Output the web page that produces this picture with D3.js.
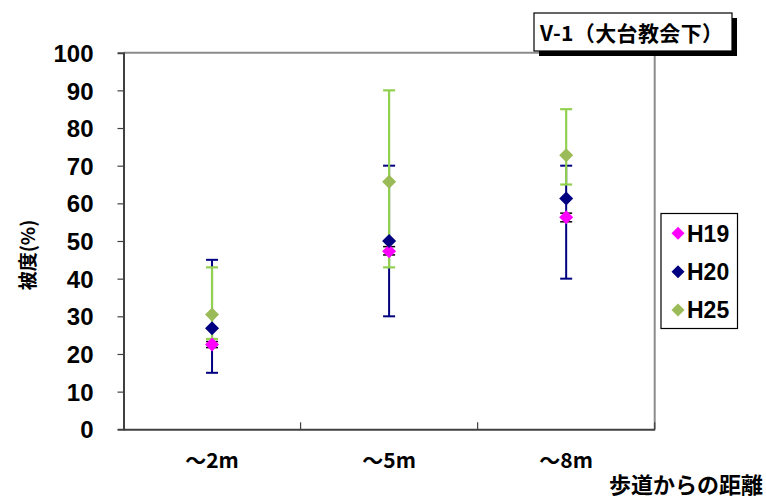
<!DOCTYPE html>
<html><head><meta charset="utf-8">
<script src="https://cdn.jsdelivr.net/npm/d3@7"></script>
<style>
html,body{margin:0;padding:0;background:#fff;}
svg{display:block;}
text{font-family:"Liberation Sans",Arial,sans-serif;}
.num{font-family:"Liberation Sans Narrow","Liberation Sans",Arial,sans-serif;}
.cjk{font-family:"Noto Sans CJK JP","Noto Sans CJK SC",sans-serif;}
</style></head>
<body>
<svg id="chart" width="766" height="498"></svg>
<script>
const categories = ["～2m", "～5m", "～8m"];
const seriesNames = ["H19", "H20", "H25"];
const H19 = [22.5, 47.3, 56.3];
const H19_low = [21.7, 46.3, 55.1];
const H19_high = [23.3, 48.5, 57.4];
const H20 = [26.8, 50.0, 61.3];
const H20_low = [15, 30, 40];
const H20_high = [45, 70, 70];
const H25 = [30.5, 65.7, 72.8];
const H25_low = [24, 43, 65];
const H25_high = [43, 90, 85];
const yTicks = [0, 10, 20, 30, 40, 50, 60, 70, 80, 90, 100];
const titleText = "V-1（大台教会下）";
const yTitle = "被度(%)";
const xTitle = "歩道からの距離";

const series = [
  {name: "H19", values: H19, low: H19_low, high: H19_high, color: "#FF00FF", bar: "#000000", barW: 1.5},
  {name: "H20", values: H20, low: H20_low, high: H20_high, color: "#000080", bar: "#000080", barW: 2},
  {name: "H25", values: H25, low: H25_low, high: H25_high, color: "#9BBB59", bar: "#92D050", barW: 2.2}
];

const svg = d3.select("#chart");
const L = 123.5, R = 654.7, T = 52.7, B = 429.3;
const y = d3.scaleLinear().domain([0, 100]).range([B, T]);
const x = d3.scaleBand().domain(categories).range([L, R]).padding(0);
const cx = c => x(c) + x.bandwidth() / 2;

// plot frame (top/right gray)
svg.append("path").attr("d", `M${L},${T}H${R}V${B}`).attr("fill", "none")
  .attr("stroke", "#8c8c8c").attr("stroke-width", 2);

// y axis
const yAxis = d3.axisLeft(y).tickValues(yTicks).tickSize(6).tickPadding(24)
  .tickFormat(d3.format("d"));
const gy = svg.append("g").attr("transform", `translate(${L},0)`).call(yAxis);
gy.select(".domain").attr("stroke", "#404040").attr("stroke-width", 2);
gy.selectAll(".tick line").attr("stroke", "#404040").attr("stroke-width", 1.2)
  .filter(d => d === 0 || d === 100).remove();
gy.selectAll(".tick text").attr("class", "num").attr("font-size", 24).attr("font-weight", "bold")
  .attr("fill", "#000").attr("dy", "0.36em");

// x axis
const xAxis = d3.axisBottom(x).tickSize(0).tickPadding(24);
const gx = svg.append("g").attr("transform", `translate(0,${B})`).call(xAxis);
gx.select(".domain").attr("stroke", "#404040").attr("stroke-width", 2);
gx.selectAll(".tick text").attr("class", "cjk").attr("font-size", 21).attr("font-weight", "bold")
  .attr("fill", "#000").attr("dy", "0.71em");
// category boundary ticks
gx.selectAll(".bt").data(categories).enter().append("line")
  .attr("x1", c => x(c) + x.bandwidth()).attr("x2", c => x(c) + x.bandwidth())
  .attr("y1", 0).attr("y2", -7).attr("stroke", "#404040").attr("stroke-width", 1.2);

// error bars
series.forEach(s => {
  const g = svg.append("g");
  categories.forEach((c, i) => {
    const px = cx(c);
    g.append("line").attr("x1", px).attr("x2", px).attr("y1", y(s.low[i])).attr("y2", y(s.high[i]))
      .attr("stroke", s.bar).attr("stroke-width", s.barW);
    [s.low[i], s.high[i]].forEach(v => {
      g.append("line").attr("x1", px - 6).attr("x2", px + 6).attr("y1", y(v)).attr("y2", y(v))
        .attr("stroke", s.bar).attr("stroke-width", s.barW);
    });
  });
});

const diamond = (px, py, r) => `M${px},${py - r}L${px + r},${py}L${px},${py + r}L${px - r},${py}Z`;
// markers
series.forEach(s => {
  svg.append("g").selectAll("path").data(s.values).enter().append("path")
    .attr("d", (v, i) => diamond(cx(categories[i]), y(v), 7))
    .attr("fill", s.color);
});

// y title
svg.append("text").attr("class", "cjk")
  .attr("transform", "translate(35,255) rotate(-90)")
  .attr("text-anchor", "middle").attr("font-size", 19).attr("font-weight", "bold")
  .text(yTitle);

// x title
svg.append("text").attr("class", "cjk")
  .attr("x", 763).attr("y", 493).attr("text-anchor", "end")
  .attr("font-size", 22).attr("font-weight", "bold").text(xTitle);

// title box
svg.append("rect").attr("x", 539).attr("y", 18).attr("width", 198).attr("height", 38).attr("fill", "#000");
svg.append("rect").attr("x", 534).attr("y", 13).attr("width", 198).attr("height", 38)
  .attr("fill", "#fff").attr("stroke", "#000").attr("stroke-width", 1.2);
svg.append("text").attr("class", "cjk").attr("x", 540).attr("y", 41)
  .attr("font-size", 21).attr("font-weight", "bold")
  .attr("textLength", 183).attr("lengthAdjust", "spacing").text(titleText);

// legend
const lg = svg.append("g");
lg.append("rect").attr("x", 661).attr("y", 213.5).attr("width", 76.5).attr("height", 115)
  .attr("fill", "#fff").attr("stroke", "#000").attr("stroke-width", 1.2);
series.forEach((s, i) => {
  const ly = 233.3 + i * 38.4;
  lg.append("path").attr("d", diamond(678, ly, 6.5)).attr("fill", s.color);
  lg.append("text").attr("class", "num").attr("x", 687).attr("y", ly).attr("dy", "0.36em")
    .attr("font-size", 23).attr("font-weight", "bold").text(seriesNames[i]);
});
</script>
</body></html>
